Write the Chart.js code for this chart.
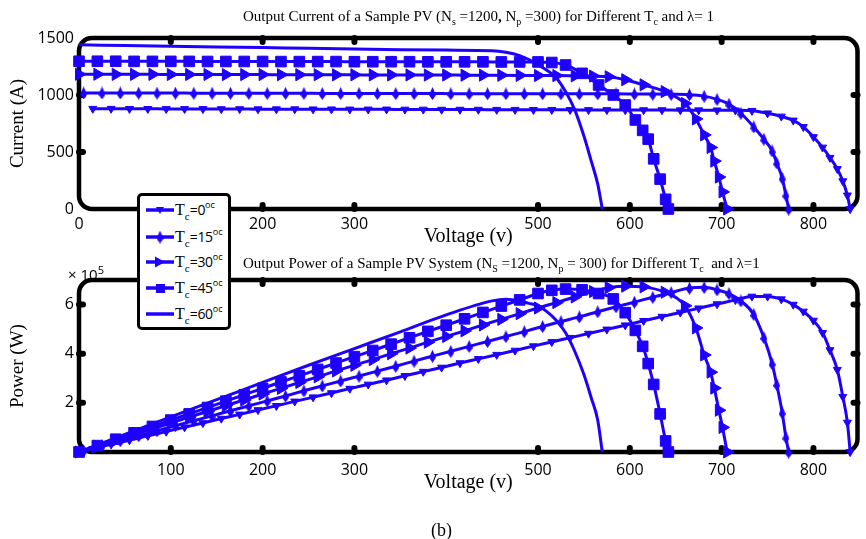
<!DOCTYPE html>
<html>
<head>
<meta charset="utf-8">
<script src="https://cdn.jsdelivr.net/npm/chart.js@4.4.0/dist/chart.umd.min.js"></script>
<style>
  body { margin: 0; background: #fff; }
  #page { position: relative; width: 866px; height: 539px; overflow: hidden; background: #fff; }
  canvas.plot { position: absolute; left: 0; }
  .txt { position: absolute; white-space: nowrap; color: #000; font-family: "Liberation Serif", "Times New Roman", serif; }
  .txt sub { font-size: 10px; vertical-align: -4px; line-height: 0; }
  #legend { position: absolute; left: 137px; top: 193px; width: 88px; height: 131px; border: 3.5px solid #000;
            border-radius: 5px; background: #fff; z-index: 5; }
  .lrow { position: absolute; left: 5px; height: 20px; }
  .lrow canvas { position: absolute; left: 0; top: 3px; }
  .lrow .lt { position: absolute; left: 30px; top: 0; white-space: nowrap; font-family: "Liberation Serif", serif; font-size: 16px; }
  .lrow .lt sub { font-size: 11px; vertical-align: -5px; line-height: 0; }
  .lrow .lt .n { font-family: "Open Sans", sans-serif; font-size: 14px; letter-spacing: -0.3px; }
  .lrow .lt sup { font-family: "Open Sans", sans-serif; font-size: 9px; vertical-align: 7px; line-height: 0; }
</style>
</head>
<body>
<div id="page">
  <canvas id="cur" class="plot" style="top:0" width="866" height="255"></canvas>
  <canvas id="pow" class="plot" style="top:255px" width="866" height="284"></canvas>

  <div class="txt" style="left:243px; top:8px; font-size:15px;">Output Current of a Sample PV (N<sub>s</sub> =1200<b>,</b> N<sub>p</sub> =300) for Different T<sub>c</sub> and &lambda;= 1</div>
  <div class="txt" style="left:243px; top:255px; font-size:15px;">Output Power of a Sample PV System (N<sub>S</sub> =1200, N<sub>p</sub> = 300) for Different T<sub>c</sub>&nbsp; and &lambda;=1</div>
  <div class="txt" style="left:68px; top:262px; font-family:'Open Sans',sans-serif; font-size:15px;">&times; 10<sup style="font-size:11px">5</sup></div>
  <div class="txt" style="left:431px; top:520px; font-size:18px;">(b)</div>

  <div id="legend"></div>
</div>

<script>
// tick values
const xTicksTop = [0, 100, 200, 300, 500, 600, 700, 800];
const xTicksBottom = [100, 200, 300, 500, 600, 700, 800];
const yTicksCurrent = [0, 500, 1000, 1500];
const yTicksPower = [2, 4, 6];
const temps = [0, 15, 30, 45, 60];

// Tc = 0
const v0 = [15,35,55,75,95,115,135,155,175,195,215,235,255,275,295,315,335,355,375,395,415,435,455,475,495,515,535,555,575,595,615,635,655,675,695,715,
            733,750,765,778,789,800,810,818,826,832,837,840];
const i0 = [880,880,879,879,878,878,878,877,877,876,876,876,875,875,874,874,874,873,873,872,872,872,871,871,870,870,870,869,869,868,868,868,867,867,866,866,
            862,840,812,777,720,632,540,450,352,245,120,0];
const p0 = [0.13,0.31,0.48,0.66,0.83,1.01,1.18,1.36,1.53,1.71,1.88,2.06,2.23,2.40,2.58,2.75,2.92,3.10,3.27,3.44,3.62,3.79,3.96,4.13,4.31,4.48,4.65,4.82,4.99,5.16,5.34,5.51,5.68,5.85,6.02,6.19,
            6.33,6.33,6.22,6.00,5.72,5.35,4.85,4.15,3.35,2.25,1.20,0];

// Tc = 15
const v15 = [5,25,45,65,85,105,125,145,165,185,205,225,245,265,285,305,325,345,365,385,405,425,445,465,485,505,525,545,565,585,605,625,645,
             665,681,695,708,721,735,746,755,760,766,770,773];
const i15 = [1018,1018,1018,1017,1017,1017,1016,1016,1016,1015,1015,1015,1015,1014,1014,1014,1013,1013,1013,1013,1012,1012,1012,1011,1011,1011,1011,1010,1010,1010,1009,1008,1006,
             1003,990,962,920,840,720,613,510,405,271,122,0];
const p15 = [0.05,0.25,0.46,0.66,0.86,1.07,1.27,1.47,1.68,1.88,2.08,2.28,2.49,2.69,2.89,3.09,3.29,3.49,3.70,3.90,4.10,4.30,4.50,4.70,4.90,5.11,5.31,5.50,5.71,5.91,6.10,6.30,6.49,
             6.67,6.70,6.60,6.45,6.15,5.60,4.66,3.60,2.75,1.60,0.60,0];

// Tc = 30
const v30 = [0,20,40,60,80,100,120,140,160,180,200,220,240,260,280,300,320,340,360,380,400,420,440,460,480,500,520,540,560,
             577,595,615,638,660,672,681,688,692,697,701,706];
const i30 = [1182,1182,1181,1181,1181,1180,1180,1180,1179,1179,1179,1178,1178,1178,1177,1177,1176,1176,1176,1175,1175,1174,1174,1173,1172,1171,1170,1168,1166,
             1160,1134,1089,1030,926,790,650,540,420,280,150,0];
const p30 = [0,0.24,0.47,0.71,0.94,1.18,1.42,1.65,1.89,2.12,2.36,2.59,2.83,3.06,3.30,3.53,3.76,4.00,4.23,4.47,4.70,4.93,5.17,5.40,5.63,5.86,6.08,6.31,6.53,
             6.69,6.75,6.72,6.50,5.95,5.05,3.95,3.25,2.60,1.70,1.00,0];

// Tc = 45
const v45 = [0,20,40,60,80,100,120,140,160,180,200,220,240,260,280,300,320,340,360,380,400,420,440,460,480,500,
             515,530,548,566,582,595,606,614,620,626,633,639,642];
const i45 = [1296,1296,1296,1295,1295,1295,1295,1294,1294,1294,1294,1293,1293,1293,1293,1292,1292,1292,1292,1291,1291,1291,1291,1290,1290,1290,
             1285,1263,1190,1088,1000,912,781,690,613,440,262,85,0];
const p45 = [0,0.26,0.52,0.78,1.04,1.30,1.55,1.81,2.07,2.33,2.59,2.85,3.10,3.36,3.62,3.88,4.13,4.39,4.65,4.91,5.16,5.42,5.68,5.94,6.19,6.45,
             6.58,6.63,6.60,6.45,6.23,5.67,4.95,4.30,3.60,2.75,1.55,0.45,0];

// Tc = 60
const v60 = [0,50,100,150,200,250,300,350,400,450,465,480,490,500,510,520,530,540,550,558,565,570];
const i60 = [1440,1434,1428,1422,1416,1410,1404,1398,1394,1389,1375,1345,1310,1265,1215,1150,1030,870,640,420,220,0];
const p60 = [0,0.72,1.43,2.13,2.83,3.53,4.21,4.89,5.58,6.15,6.22,6.15,6.05,5.95,5.70,5.35,4.85,4.10,3.15,2.20,1.30,0];

const BLUE = '#1e00ff';
const SERIF = '"Liberation Serif", "Times New Roman", serif';
const SANS = '"Open Sans", sans-serif';

function makeKite() {
    const c = document.createElement('canvas');
    c.width = 7; c.height = 13;
    const g = c.getContext('2d');
    g.fillStyle = BLUE;
    g.beginPath();
    g.moveTo(3.5, 0); g.lineTo(7, 8); g.lineTo(3.5, 13); g.lineTo(0, 8);
    g.closePath(); g.fill();
    return c;
}
const kite = makeKite();

const markers = [
    { style: 'triangle', rot: 180, r: 4.6 },
    { style: kite, rot: 0, r: 6 },
    { style: 'triangle', rot: 90, r: 7 },
    { style: 'rect', rot: 0, r: 7.5 },
    { style: 'circle', rot: 0, r: 0 }
];

function pairs(xs, ys) { return xs.map((x, k) => ({ x: x, y: ys[k] })); }

function dataset(k, xs, ys) {
    const m = markers[k];
    return {
        label: 'Tc=' + temps[k],
        data: pairs(xs, ys),
        borderColor: BLUE,
        backgroundColor: BLUE,
        borderWidth: 3,
        cubicInterpolationMode: 'monotone',
        pointStyle: m.style,
        pointRotation: m.rot,
        pointRadius: m.r,
        pointHoverRadius: m.r,
        pointBackgroundColor: BLUE,
        pointBorderColor: BLUE,
        pointBorderWidth: 1,
        clip: false
    };
}

function stub(ctx, x1, y1, x2, y2) {
    ctx.beginPath(); ctx.moveTo(x1, y1); ctx.lineTo(x2, y2); ctx.stroke();
}

const framePlugin = {
    id: 'frame',
    beforeDatasetsDraw(chart) {
        const { ctx, chartArea: a } = chart;
        const r = 13;
        ctx.save();
        ctx.strokeStyle = '#000';
        ctx.lineWidth = 4.5;
        ctx.beginPath();
        ctx.moveTo(a.left + r, a.top);
        ctx.lineTo(a.right - r, a.top);
        ctx.arcTo(a.right, a.top, a.right, a.top + r, r);
        ctx.lineTo(a.right, a.bottom - r);
        ctx.arcTo(a.right, a.bottom, a.right - r, a.bottom, r);
        ctx.lineTo(a.left + r, a.bottom);
        ctx.arcTo(a.left, a.bottom, a.left, a.bottom - r, r);
        ctx.lineTo(a.left, a.top + r);
        ctx.arcTo(a.left, a.top, a.left + r, a.top, r);
        ctx.closePath();
        ctx.stroke();

        ctx.lineWidth = 6;
        ctx.lineCap = 'round';
        const xs = chart.scales.x, ys = chart.scales.y;
        xs.ticks.forEach(t => {
            const px = xs.getPixelForValue(t.value);
            if (px < a.left + r || px > a.right - r) return;
            stub(ctx, px, a.top, px, a.top + 4);
            stub(ctx, px, a.bottom, px, a.bottom - 4);
        });
        ys.ticks.forEach(t => {
            const py = ys.getPixelForValue(t.value);
            if (py < a.top + r || py > a.bottom - r) return;
            stub(ctx, a.left, py, a.left + 4, py);
            stub(ctx, a.right, py, a.right - 4, py);
        });
        ctx.restore();
    }
};

function axes(xTicks, yTicks, yMax, yTitle, xHeight, xPad) {
    return {
        x: {
            type: 'linear', min: 0, max: 848,
            afterBuildTicks: s => { s.ticks = xTicks.map(v => ({ value: v })); },
            afterFit: s => { s.height = xHeight; },
            grid: { display: false, drawTicks: false },
            border: { display: false },
            ticks: { color: '#000', font: { family: SANS, size: 16 }, padding: xPad, maxRotation: 0, autoSkip: false,
                     callback: v => String(v) },
            title: { display: true, text: 'Voltage (v)', color: '#000', font: { family: SERIF, size: 20 },
                     padding: { top: 0, bottom: xHeight === 46 ? 6 : 0 } }
        },
        y: {
            type: 'linear', min: 0, max: yMax,
            afterBuildTicks: s => { s.ticks = yTicks.map(v => ({ value: v })); },
            afterFit: s => { s.width = 79; },
            grid: { display: false, drawTicks: false },
            border: { display: false },
            ticks: { color: '#000', font: { family: SANS, size: 16 }, padding: 5, callback: v => String(v) },
            title: { display: true, text: yTitle, color: '#000', font: { family: SERIF, size: 19 },
                     padding: { top: 7, bottom: 0 } }
        }
    };
}

function commonOptions(pad, scales) {
    return {
        responsive: false,
        animation: false,
        layout: { padding: pad },
        plugins: { legend: { display: false }, tooltip: { enabled: false }, title: { display: false } },
        scales: scales
    };
}

new Chart(document.getElementById('cur'), {
    type: 'line',
    data: {
        datasets: [
            dataset(0, v0, i0), dataset(1, v15, i15), dataset(2, v30, i30),
            dataset(3, v45, i45), dataset(4, v60, i60)
        ]
    },
    options: commonOptions({ left: 0, top: 38, right: 1, bottom: 0 },
        axes(xTicksTop, yTicksCurrent, 1500, 'Current (A)', 46, 6)),
    plugins: [framePlugin]
});

new Chart(document.getElementById('pow'), {
    type: 'line',
    data: {
        datasets: [
            dataset(0, v0, p0), dataset(1, v15, p15), dataset(2, v30, p30),
            dataset(3, v45, p45), dataset(4, v60, p60)
        ]
    },
    options: commonOptions({ left: 0, top: 25, right: 1, bottom: 44 },
        axes(xTicksBottom, yTicksPower, 7, 'Power (W)', 43, 9)),
    plugins: [framePlugin]
});

// legend
const legend = document.getElementById('legend');
const rowTops = [4, 31, 56, 82, 108];
temps.forEach((t, k) => {
    const row = document.createElement('div');
    row.className = 'lrow';
    row.style.top = rowTops[k] + 'px';
    const c = document.createElement('canvas');
    c.width = 30; c.height = 14;
    const g = c.getContext('2d');
    g.strokeStyle = BLUE; g.fillStyle = BLUE; g.lineWidth = 3.5;
    g.beginPath(); g.moveTo(1, 7); g.lineTo(29, 7); g.stroke();
    if (k === 0) { g.beginPath(); g.moveTo(11, 4); g.lineTo(19, 4); g.lineTo(15, 11); g.closePath(); g.fill(); }
    if (k === 1) { g.drawImage(kite, 11.5, 0.5); }
    if (k === 2) { g.beginPath(); g.moveTo(10, 1.5); g.lineTo(20, 7); g.lineTo(10, 12.5); g.closePath(); g.fill(); }
    if (k === 3) { g.fillRect(11, 3, 9, 9); }
    row.appendChild(c);
    const s = document.createElement('span');
    s.className = 'lt';
    s.innerHTML = 'T<sub>c</sub><span class="n">=' + t + '</span><sup>oc</sup>';
    row.appendChild(s);
    legend.appendChild(row);
});
</script>
</body>
</html>
